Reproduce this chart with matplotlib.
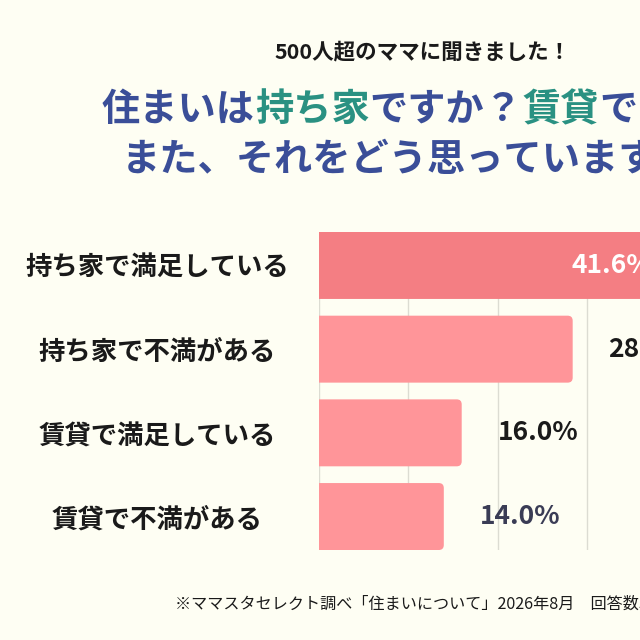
import matplotlib
matplotlib.use("Agg")
import matplotlib.pyplot as plt
from matplotlib.patches import FancyBboxPatch

plt.rcParams['font.family'] = ['Noto Sans CJK JP', 'DejaVu Sans']

# ---- data ----
categories = ["持ち家で満足している", "持ち家で不満がある", "賃貸で満足している", "賃貸で不満がある"]
values = [41.6, 28.4, 16.0, 14.0]
value_labels = ["41.6%", "28.4%", "16.0%", "14.0%"]
grid_ticks = [0, 10, 20, 30, 40]
subtitle = "500人超のママに聞きました！"
title_line1 = [("住まいは", "navy"), ("持ち家", "teal"), ("ですか？", "navy"),
               ("賃貸", "teal"), ("ですか？", "navy")]
title_line2 = "また、それをどう思っていますか？"
footnote = "※ママスタセレクト調べ「住まいについて」2026年8月　回答数532件"

# ---- styles ----
BG = "#FEFEF3"
NAVY = "#3A4E98"
TEAL = "#2A9182"
bar_colors = ["#F47E83", "#FF9599", "#FF9599", "#FF9599"]
label_colors = ["white", "#1a1a1a", "#1a1a1a", "#3A3C55"]

W, H = 640, 640
fig = plt.figure(figsize=(6.4, 6.4), dpi=100, facecolor=BG)

x0_px, px_per_unit = 318.5, 8.95
xmax = 45
ax_left = x0_px / W
ax_width = xmax * px_per_unit / W
ax_bottom = (H - 550) / H
ax_height = (550 - 232) / H
ax = fig.add_axes([ax_left, ax_bottom, ax_width, ax_height])
ax.set_facecolor(BG)
ax.set_xlim(0, xmax)
ax.set_ylim(3.4, -0.4)
for s in ax.spines.values():
    s.set_visible(False)
ax.set_xticks(grid_ticks)
ax.set_yticks([])
ax.tick_params(axis='x', length=0, labelbottom=False)
ax.xaxis.grid(True, color="#DCDCD2", linewidth=1.0)
ax.set_axisbelow(True)

bar_h = 0.8
rx = 5.0 / px_per_unit
ry = 5.0 * (3.8 / 318)
for i, v in enumerate(values):
    p = FancyBboxPatch((-2, i - bar_h / 2), v + 2, bar_h,
                       boxstyle=f"round,pad=0,rounding_size={rx}",
                       mutation_aspect=ry / rx,
                       facecolor=bar_colors[i], edgecolor="none", zorder=2)
    ax.add_patch(p)
    p.set_clip_path(ax.patch)
    if i == 0:
        ax.text(v - 4.3, i, value_labels[i], ha='right', va='center',
                fontsize=19, fontweight='bold', color=label_colors[i], zorder=3)
    else:
        ax.text(v + 4.0, i, value_labels[i], ha='left', va='center',
                fontsize=19, fontweight='bold', color=label_colors[i], zorder=3)

# category labels (centered at x ~157px)
row_y = [267, 352, 437, 520]
for i, c in enumerate(categories):
    fig.text(157 / W, 1 - row_y[i] / H, c, ha='center', va='center',
             fontsize=19, fontweight='bold', color="#1a1a1a")

# subtitle
fig.text(423 / W, 1 - 52 / H, subtitle, ha='center', va='center',
         fontsize=15.5, fontweight='bold', color="#1a1a1a")

# title line 1 (multi-colour, pieces chained left to right)
cmap = {"navy": NAVY, "teal": TEAL}
last = None
for piece, col in title_line1:
    if last is None:
        last = fig.text(102 / W, 1 - 129 / H, piece, ha='left', va='bottom',
                        fontsize=27.5, fontweight='bold', color=cmap[col])
    else:
        last = ax.annotate(piece, xy=(1, 0), xycoords=last, ha='left', va='bottom',
                           fontsize=27.5, fontweight='bold', color=cmap[col],
                           annotation_clip=False)

fig.text(122 / W, 1 - 159 / H, title_line2, ha='left', va='center',
         fontsize=27.5, fontweight='bold', color=NAVY)

# footnote
fig.text(175 / W, 1 - 604 / H, footnote, ha='left', va='center',
         fontsize=11.6, color="#1a1a1a")

fig.savefig("out.png", dpi=100, facecolor=BG)
